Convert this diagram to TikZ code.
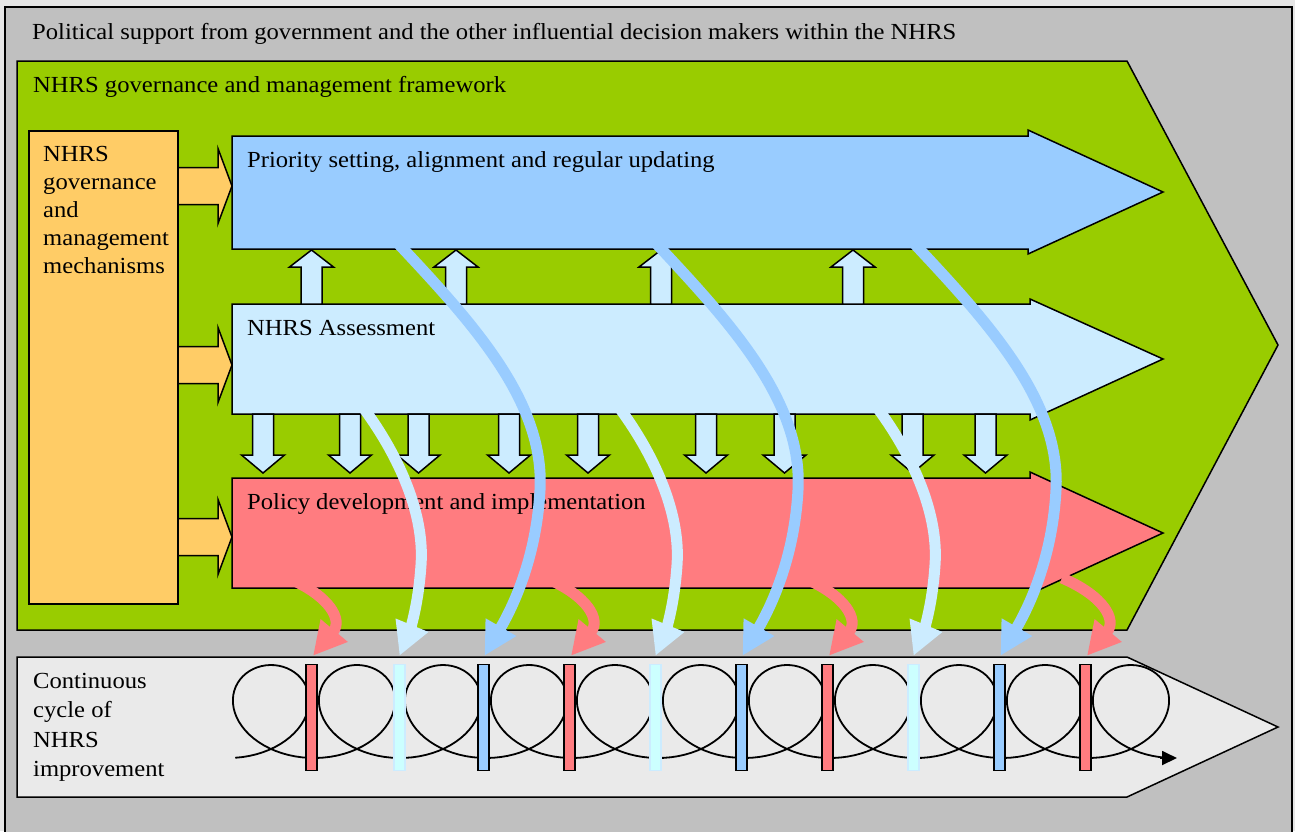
\documentclass[tikz,border=0pt]{standalone}
\usepackage{fontspec}
\setmainfont{Liberation Serif}[FakeStretch=1.07]
\usetikzlibrary{arrows.meta}
\definecolor{pagebg}{HTML}{E6E6E6}
\definecolor{frame}{HTML}{C0C0C0}
\definecolor{govgreen}{HTML}{99CC00}
\definecolor{mechorange}{HTML}{FFCC66}
\definecolor{prioblue}{HTML}{99CCFF}
\definecolor{assessblue}{HTML}{CCECFF}
\definecolor{policyred}{HTML}{FF7C80}
\definecolor{cyclegray}{HTML}{EAEAEA}
\definecolor{barcyan}{HTML}{CCFFFF}
\begin{document}
\begin{tikzpicture}[x=1pt,y=-1pt,line join=miter,
  outline/.style={draw=black,line width=1.5pt},
  label/.style={anchor=base west,inner sep=0pt,font=\fontsize{23}{28}\selectfont},
  cyclelabel/.style={label,font=\fontsize{23}{29.6}\selectfont},
  barbox/.style={outline,inner sep=0pt,minimum width=11pt,minimum height=106pt},
  redbar/.style={barbox,fill=policyred},
  bluebar/.style={barbox,fill=prioblue},
  cyanbar/.style={barbox,fill=barcyan,draw=assessblue},
  flow/.style={line width=11pt,-{Triangle[length=33pt,width=33pt]}},
  prioflow/.style={flow,draw=prioblue},
  assessflow/.style={flow,draw=assessblue},
  policyflow/.style={flow,draw=policyred},
  smallup/.style={outline,fill=assessblue},
  smalldown/.style={outline,fill=assessblue},
  feed/.style={outline,fill=mechorange},
  coil/.style={line width=1.8pt}]
\useasboundingbox (0,0) rectangle (1295,831);
\clip (0,0) rectangle (1295,831);
\fill[pagebg] (0,0) rectangle (1295,831);

% outer frame: political support
\draw[outline,fill=frame] (5,7) rectangle (1292,860);
\node[label] (political) at (32,39) {Political support from government and the other influential decision makers within the NHRS};

% governance framework pentagon
\draw[outline,fill=govgreen] (17,61) -- (1127,61) -- (1278,345) -- (1127,630) -- (17,630) -- cycle;
\node[label] (framework) at (33,92) {NHRS governance and management framework};

% mechanisms box with its three feeding arrows
\draw[outline,fill=mechorange] (29,131) rectangle (178,604);
\node[label] (mechanisms) at (43,161) {\begin{tabular}[t]{@{}l@{}}NHRS\\governance\\and\\management\\mechanisms\end{tabular}};
\foreach \yc in {186,365,537}
  \draw[feed] (178,\yc-18.5) -- (218,\yc-18.5) -- (218,\yc-37.5) -- (232,\yc)
    -- (218,\yc+37.5) -- (218,\yc+18.5) -- (178,\yc+18.5) -- cycle;

% three block arrows
\draw[outline,fill=prioblue] (232,136) -- (1028,136) -- (1028,130) -- (1163,192)
  -- (1028,254) -- (1028,249) -- (232,249) -- cycle;
\draw[outline,fill=assessblue] (232,304) -- (1030,304) -- (1030,299) -- (1163,359)
  -- (1030,420) -- (1030,414) -- (232,414) -- cycle;
\draw[outline,fill=policyred] (232,478) -- (1030,478) -- (1030,472) -- (1163,533)
  -- (1030,594) -- (1030,588) -- (232,588) -- cycle;
\node[label] (priority) at (247,167) {Priority setting, alignment and regular updating};
\node[label] (assessment) at (247,335) {NHRS Assessment};
\node[label] (policy) at (247,509) {Policy development and implementation};

% assessment feeds priority setting
\foreach \cx in {311.5,456,661,853}
  \draw[smallup] (\cx-10.5,304) -- (\cx-10.5,267) -- (\cx-22,267) -- (\cx,250)
    -- (\cx+22,267) -- (\cx+10.5,267) -- (\cx+10.5,304) -- cycle;
% assessment feeds policy development
\foreach \cx in {263,350,418.5,509,588,706,784.5,912.5,985.5}
  \draw[smalldown] (\cx-10.5,414) -- (\cx-10.5,455) -- (\cx-21.5,455) -- (\cx,473)
    -- (\cx+21.5,455) -- (\cx+10.5,455) -- (\cx+10.5,414) -- cycle;

% continuous improvement cycle
\draw[outline,fill=cyclegray] (17,657) -- (1127,657) -- (1278,727) -- (1127,797) -- (17,797) -- cycle;
\node[cyclelabel] (cycle) at (33,688) {\begin{tabular}[t]{@{}l@{}}Continuous\\cycle of\\NHRS\\improvement\end{tabular}};
\draw[coil] plot[domain=-3.04:65.97,samples=700,variable=\t]
  ({271+13.687*\t-58*sin(\t r)},{711.5-46.5*cos(\t r)});
\coordinate (loopend) at (1160,758);
\coordinate (looptip) at (1177,758);
\draw[coil,-{Triangle[length=15pt,width=14pt]}] (loopend) -- (looptip);

\node[redbar]  (bar1)  at (311.5,717.5) {};
\node[cyanbar] (bar2)  at (399.5,717.5) {};
\node[bluebar] (bar3)  at (483.5,717.5) {};
\node[redbar]  (bar4)  at (569.5,717.5) {};
\node[cyanbar] (bar5)  at (655.5,717.5) {};
\node[bluebar] (bar6)  at (741.5,717.5) {};
\node[redbar]  (bar7)  at (827.5,717.5) {};
\node[cyanbar] (bar8)  at (913.5,717.5) {};
\node[bluebar] (bar9)  at (999.5,717.5) {};
\node[redbar]  (bar10) at (1085.5,717.5) {};

% flows from priority setting
\foreach \dx/\b in {0/bar3,258/bar6,516/bar9}
  \draw[prioflow] ({393+\dx},238) .. controls ({470+\dx},320) and ({545+\dx},400) .. ({540+\dx},490)
    .. controls ({536+\dx},565) and ({508+\dx},615) .. ([yshift=8pt,xshift=1pt]\b.north);
% flows from assessment
\foreach \dx/\b in {0/bar2,256/bar5,514/bar8}
  \draw[assessflow] ({362+\dx},406) .. controls ({395+\dx},450) and ({425+\dx},510) .. ({421+\dx},565)
    .. controls ({418+\dx},610) and ({408+\dx},635) .. ([yshift=8pt]\b.north);
% flows from policy development
\foreach \dx/\b in {0/bar1,258/bar4,516/bar7,774/bar10}
  \draw[policyflow] ({288+\dx},578) .. controls ({330+\dx},596) and ({343+\dx},620) .. ([yshift=8pt,xshift=1.5pt]\b.north);
\end{tikzpicture}
\end{document}
